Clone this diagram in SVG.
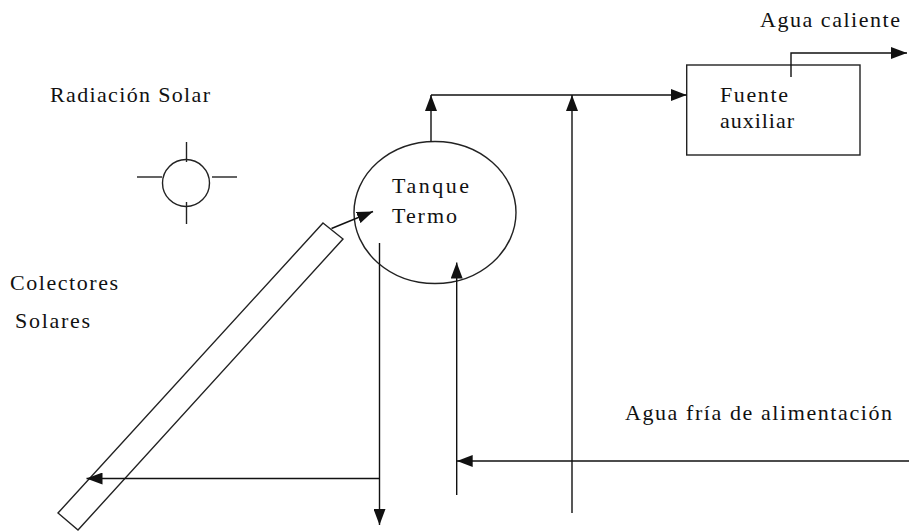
<svg xmlns="http://www.w3.org/2000/svg" width="909" height="531" viewBox="0 0 909 531">
<style>
.ln{fill:none;stroke:#111;stroke-width:1.4}
.sh{fill:none;stroke:#222;stroke-width:1.4}
text{font-family:'Liberation Serif','DejaVu Serif',serif;font-size:22px;fill:#111}
</style>
<defs>
<marker id="ah" viewBox="0 0 16 12" refX="16" refY="6" markerWidth="16" markerHeight="12" markerUnits="userSpaceOnUse" orient="auto">
<path d="M0,0 L16,6 L0,12 Z" fill="#111"/>
</marker>
</defs>
<rect width="909" height="531" fill="#fff"/>
<g id="labels" font-family="Liberation Serif, serif">
<text x="760" y="27" textLength="140" lengthAdjust="spacing">Agua caliente</text>
<text x="50" y="102" textLength="160" lengthAdjust="spacing">Radiación Solar</text>
<text x="10" y="290" textLength="108" lengthAdjust="spacing">Colectores</text>
<text x="15" y="328" textLength="75" lengthAdjust="spacing">Solares</text>
<text x="625" y="420" textLength="267" lengthAdjust="spacing">Agua fría de alimentación</text>
</g>
<g id="sun">
<circle class="sh" cx="186" cy="183" r="23.5"/>
<line class="sh" x1="137" y1="177" x2="162" y2="177"/>
<line class="sh" x1="212" y1="177" x2="237" y2="177"/>
<line class="sh" x1="186.5" y1="142" x2="186.5" y2="162"/>
<line class="sh" x1="186.5" y1="202" x2="186.5" y2="224"/>
</g>
<g id="collector">
<polygon class="sh" points="323,223 343,239 78,530 58,513" stroke="#444" stroke-width="1.2"/>
</g>
<g id="tank">
<ellipse class="sh" cx="435" cy="212.5" rx="81" ry="71"/>
<text x="392" y="193" textLength="77" lengthAdjust="spacing">Tanque</text>
<text x="392" y="223" textLength="65" lengthAdjust="spacing">Termo</text>
</g>
<g id="aux">
<rect class="sh" x="686.7" y="65" width="173.3" height="90"/>
<text x="720" y="101.5" textLength="68" lengthAdjust="spacing">Fuente</text>
<text x="720" y="128" textLength="74" lengthAdjust="spacing">auxiliar</text>
</g>
<g id="connectors">
<line class="ln" x1="331.5" y1="228.5" x2="373" y2="211.5" marker-end="url(#ah)"/>
<line class="ln" x1="431" y1="141.5" x2="431" y2="95" marker-end="url(#ah)"/>
<line class="ln" x1="431" y1="95" x2="686.7" y2="95" marker-end="url(#ah)"/>
<line class="ln" x1="572" y1="513" x2="572" y2="95" marker-end="url(#ah)"/>
<polyline class="ln" points="791,77 791,53 907,53" marker-end="url(#ah)"/>
<line class="ln" x1="379.5" y1="243" x2="379.5" y2="525" marker-end="url(#ah)"/>
<line class="ln" x1="379.5" y1="478.5" x2="86.5" y2="478.5" marker-end="url(#ah)"/>
<line class="ln" x1="909" y1="461" x2="456.7" y2="461" marker-end="url(#ah)"/>
<line class="ln" x1="456.7" y1="495" x2="456.7" y2="262.5" marker-end="url(#ah)"/>
</g>
</svg>
